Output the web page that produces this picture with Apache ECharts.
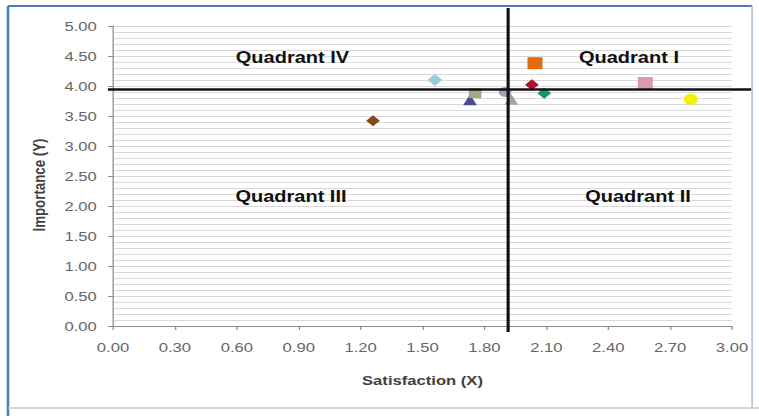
<!DOCTYPE html>
<html>
<head>
<meta charset="utf-8">
<script src="https://cdn.jsdelivr.net/npm/echarts@6/dist/echarts.min.js"></script>
<style>
  html, body { margin: 0; padding: 0; background: #fff; }
  #wrap { width: 759px; height: 416px; overflow: hidden; position: relative; background: #fff; }
  /* the chart is laid out at 607px and stretched horizontally to fill the frame */
  #chart { width: 607px; height: 416px; transform: scaleX(1.25041); transform-origin: 0 0; }
</style>
</head>
<body>
<div id="wrap"><div id="chart"></div></div>
<script>
// Attribute scores: satisfaction (X) against importance (Y)
const attributeNames = ['Attribute A', 'Attribute B', 'Attribute C', 'Attribute D', 'Attribute E', 'Attribute F',
                        'Attribute G', 'Attribute H', 'Attribute I', 'Attribute J', 'Attribute K'];
const satisfaction = [1.26, 1.56, 1.73, 1.755, 1.90, 1.93, 2.03, 2.045, 2.09, 2.58, 2.80];
const importance   = [3.42, 4.10, 3.77, 3.88, 3.90, 3.78, 4.02, 4.38, 3.88, 4.05, 3.78];

// Quadrant dividers (crossing point of the two reference lines) and how far they run
const dividerX = 1.915;
const dividerY = 3.94;
const dividerXSpan = [-0.025, 3.095];   // horizontal divider, in satisfaction units
const dividerYSpan = [-0.1, 5.3];       // vertical divider, in importance units

// Axis ranges and tick steps
const xRange = [0, 3.0], xStep = 0.3;
const yRange = [0, 5.0], yStep = 0.5;

const quadrantLabels = ['Quadrant IV', 'Quadrant I', 'Quadrant III', 'Quadrant II'];

// Marker styles, one per attribute
const markerShapes = ['diamond', 'diamond', 'triangle', 'rect', 'circle', 'triangle',
                      'diamond', 'rect', 'diamond', 'rect', 'circle'];
const markerColors = ['#8a4a14', '#98cdd6', '#4a4a8e', '#a8a68a', '#a89cb4', '#9ea4ae',
                      '#b0102e', '#e46c0a', '#14985e', '#d99aae', '#f2f200'];
const markerSizes  = [11, 12, 11, 10, 10, 11, 11, 12, 11, 12, 11];

const FONT = '"Liberation Sans", Arial, sans-serif';
const chart = echarts.init(document.getElementById('chart'), null, { renderer: 'svg' });

const pointSeries = attributeNames.map((name, i) => ({
  name: name,
  type: 'scatter',
  data: [[satisfaction[i], importance[i]]],
  symbol: markerShapes[i],
  symbolSize: markerSizes[i],
  itemStyle: { color: markerColors[i], opacity: 1 },
  z: 2
}));

const quadText = (text, x, y) => ({
  type: 'text', x: x, y: y, z: 10,
  style: { text: text, font: 'bold 16px ' + FONT, fill: '#111', align: 'center', verticalAlign: 'middle' }
});

chart.setOption({
  animation: false,
  backgroundColor: '#ffffff',
  grid: { left: 90.4, right: 21.6, top: 26, bottom: 90, containLabel: false },
  xAxis: {
    type: 'value',
    min: xRange[0], max: xRange[1], interval: xStep,
    name: 'Satisfaction (X)',
    nameLocation: 'middle', nameGap: 48,
    nameTextStyle: { fontFamily: FONT, fontSize: 13.3, fontWeight: 'bold', color: '#404040' },
    axisLine: { lineStyle: { color: '#8c8c8c', width: 1 } },
    axisTick: { show: true, length: 4, lineStyle: { color: '#8c8c8c' } },
    axisLabel: { fontFamily: FONT, fontSize: 13.3, color: '#666666', margin: 15,
                 formatter: v => v.toFixed(2) },
    splitLine: { show: false }
  },
  yAxis: {
    type: 'value',
    min: yRange[0], max: yRange[1], interval: yStep,
    axisLine: { show: true, lineStyle: { color: '#8c8c8c', width: 1 } },
    axisTick: { show: true, length: 4, lineStyle: { color: '#8c8c8c' } },
    axisLabel: { fontFamily: FONT, fontSize: 13.3, color: '#666666', margin: 13,
                 formatter: v => v.toFixed(2) },
    splitLine: { show: true, lineStyle: { color: '#d9d9d9', width: 1 } },
    minorTick: { show: false, splitNumber: 5 },
    minorSplitLine: { show: true, lineStyle: { color: '#d9d9d9', width: 1 } }
  },
  graphic: [
    // chart frame
    { type: 'line', shape: { x1: 6.4, y1: 6, x2: 6.4, y2: 416 }, style: { stroke: '#4a7ebb', lineWidth: 2 }, z: 20 },
    { type: 'line', shape: { x1: 6.4, y1: 6, x2: 601.5, y2: 6 }, style: { stroke: '#4a7ebb', lineWidth: 2 }, z: 20 },
    { type: 'line', shape: { x1: 601.5, y1: 6, x2: 601.5, y2: 408 }, style: { stroke: '#b9c9dd', lineWidth: 1.5 }, z: 20 },
    { type: 'line', shape: { x1: 6.4, y1: 408, x2: 607, y2: 408 }, style: { stroke: '#c8c8c8', lineWidth: 1.5 }, z: 20 },
    // y axis title
    {
      type: 'text', x: 31.5, y: 185, rotation: Math.PI / 2, z: 10,
      style: { text: 'Importance (Y)', font: 'bold 13.3px ' + FONT, fill: '#404040', align: 'center', verticalAlign: 'middle' }
    },
    quadText(quadrantLabels[0], 233.9, 58),
    quadText(quadrantLabels[1], 503, 58),
    quadText(quadrantLabels[2], 232.7, 197),
    quadText(quadrantLabels[3], 510.2, 197)
  ],
  series: pointSeries
});

// Quadrant divider lines, positioned through the grid's own coordinate conversion
const toPx = p => chart.convertToPixel({ gridIndex: 0 }, p);
const hA = toPx([dividerXSpan[0], dividerY]), hB = toPx([dividerXSpan[1], dividerY]);
const vA = toPx([dividerX, dividerYSpan[0]]), vB = toPx([dividerX, dividerYSpan[1]]);
const dividerStyle = { stroke: '#111111', lineWidth: 2.5 };
chart.setOption({
  graphic: [
    { id: 'divider-h', type: 'line', z: 15, silent: true,
      shape: { x1: hA[0], y1: hA[1], x2: hB[0], y2: hB[1] }, style: dividerStyle },
    { id: 'divider-v', type: 'line', z: 15, silent: true,
      shape: { x1: vA[0], y1: vA[1], x2: vB[0], y2: vB[1] }, style: dividerStyle }
  ]
});
</script>
</body>
</html>
